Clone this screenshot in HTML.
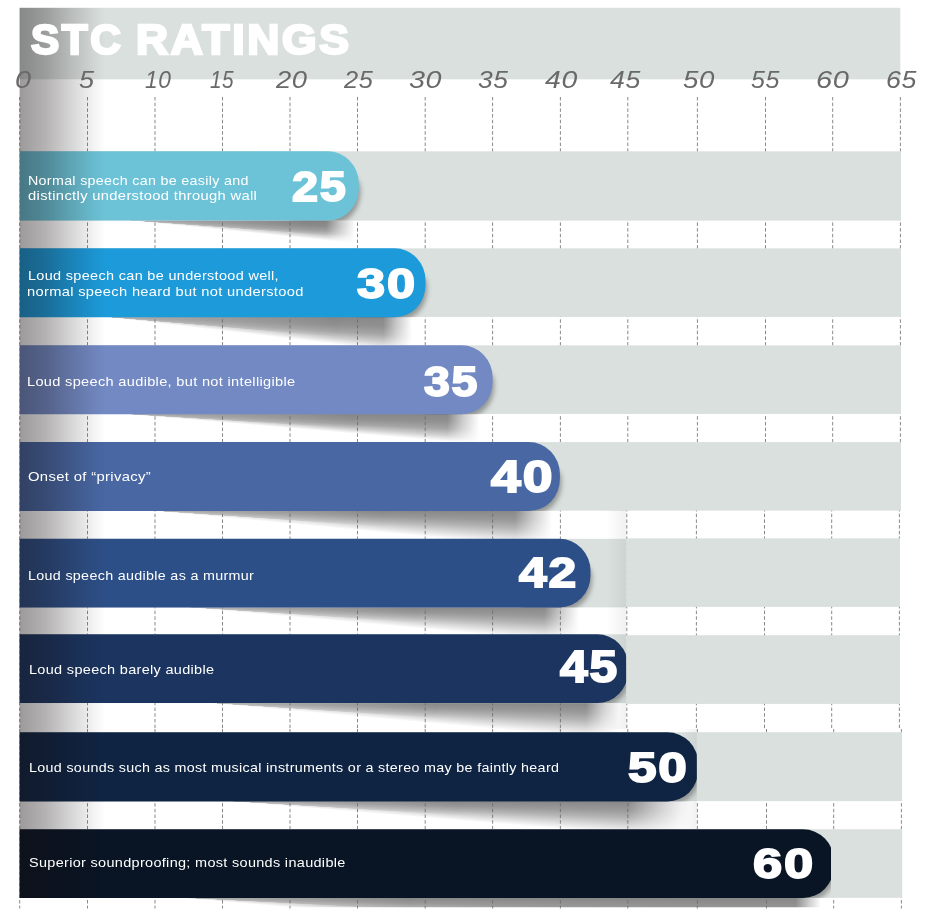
<!DOCTYPE html>
<html lang="en">
<head>
<meta charset="utf-8">
<title>STC Ratings</title>
<style>
html,body{margin:0;padding:0;background:#fff;}
body{width:933px;height:923px;position:relative;overflow:hidden;font-family:"Liberation Sans",sans-serif;}
.chart{position:absolute;left:0;top:0;width:933px;height:923px;overflow:hidden;}
.t{position:absolute;margin:0;transform-origin:0 0;color:#fff;}
.tick{color:#696969;}
.sh{position:absolute;}
svg{position:absolute;left:0;top:0;}
.title{font-size:41px;line-height:50px;font-weight:bold;white-space:nowrap;letter-spacing:2.5px;-webkit-text-stroke:2.4px #fff;}
.tick{font-size:24px;line-height:30px;font-style:italic;white-space:nowrap;letter-spacing:0.5px;}
.label{font-size:13.3px;line-height:16px;white-space:nowrap;letter-spacing:0.3px;}
.num{font-weight:bold;font-size:42px;line-height:44px;white-space:nowrap;-webkit-text-stroke:1.8px #fff;letter-spacing:1.5px;}
</style>
</head>
<body>
<div class="chart">

<div class="sh" style="left:127px;top:220px;width:228.0px;height:30px;background:conic-gradient(from 90deg at 0.00px 0.20px,rgba(0,0,0,0.47) 0.00deg,rgba(0,0,0,0.43) 1.70deg,rgba(0,0,0,0.35) 3.11deg,rgba(0,0,0,0.18) 4.52deg,rgba(0,0,0,0.05) 5.43deg,rgba(0,0,0,0) 5.82deg,rgba(0,0,0,0) 360deg);-webkit-mask-image:linear-gradient(to right,rgba(0,0,0,.35) 0%,#000 80.0%,#000 87.3%,rgba(0,0,0,.45) 93.6%,transparent 100%);mask-image:linear-gradient(to right,rgba(0,0,0,.35) 0%,#000 80.0%,#000 87.3%,rgba(0,0,0,.45) 93.6%,transparent 100%)"></div>
<div class="sh" style="left:127px;top:220px;width:228.0px;height:30px;background:conic-gradient(from 90deg at 0.00px 0.20px,rgba(0,0,0,.2) 0deg,rgba(0,0,0,.2) 4.06deg,rgba(0,0,0,0) 4.30deg,rgba(0,0,0,0) 360deg);-webkit-mask-image:linear-gradient(to right,#000 0%,rgba(0,0,0,.6) 45%,transparent 100%);mask-image:linear-gradient(to right,#000 0%,rgba(0,0,0,.6) 45%,transparent 100%)"></div>
<div class="sh" style="left:105px;top:316px;width:307.0px;height:31px;background:conic-gradient(from 90deg at 0.00px 0.90px,rgba(0,0,0,0.47) 0.00deg,rgba(0,0,0,0.43) 1.97deg,rgba(0,0,0,0.35) 3.61deg,rgba(0,0,0,0.18) 5.25deg,rgba(0,0,0,0.05) 6.30deg,rgba(0,0,0,0) 6.76deg,rgba(0,0,0,0) 360deg);-webkit-mask-image:linear-gradient(to right,rgba(0,0,0,.35) 0%,#000 74.9%,#000 90.6%,rgba(0,0,0,.45) 95.3%,transparent 100%);mask-image:linear-gradient(to right,rgba(0,0,0,.35) 0%,#000 74.9%,#000 90.6%,rgba(0,0,0,.45) 95.3%,transparent 100%)"></div>
<div class="sh" style="left:105px;top:316px;width:240.0px;height:31px;background:conic-gradient(from 90deg at 0.00px 0.90px,rgba(0,0,0,.2) 0deg,rgba(0,0,0,.2) 4.73deg,rgba(0,0,0,0) 4.97deg,rgba(0,0,0,0) 360deg);-webkit-mask-image:linear-gradient(to right,#000 0%,rgba(0,0,0,.6) 45%,transparent 100%);mask-image:linear-gradient(to right,#000 0%,rgba(0,0,0,.6) 45%,transparent 100%)"></div>
<div class="sh" style="left:121px;top:413px;width:358.0px;height:31px;background:conic-gradient(from 90deg at 0.40px 0.80px,rgba(0,0,0,0.47) 0.00deg,rgba(0,0,0,0.43) 1.42deg,rgba(0,0,0,0.35) 2.61deg,rgba(0,0,0,0.18) 3.80deg,rgba(0,0,0,0.05) 4.55deg,rgba(0,0,0,0) 4.89deg,rgba(0,0,0,0) 360deg);-webkit-mask-image:linear-gradient(to right,rgba(0,0,0,.35) 0%,#000 64.2%,#000 91.1%,rgba(0,0,0,.45) 95.5%,transparent 100%);mask-image:linear-gradient(to right,rgba(0,0,0,.35) 0%,#000 64.2%,#000 91.1%,rgba(0,0,0,.45) 95.5%,transparent 100%)"></div>
<div class="sh" style="left:121px;top:413px;width:240.0px;height:31px;background:conic-gradient(from 90deg at 0.40px 0.80px,rgba(0,0,0,.2) 0deg,rgba(0,0,0,.2) 3.39deg,rgba(0,0,0,0) 3.63deg,rgba(0,0,0,0) 360deg);-webkit-mask-image:linear-gradient(to right,#000 0%,rgba(0,0,0,.6) 45%,transparent 100%);mask-image:linear-gradient(to right,#000 0%,rgba(0,0,0,.6) 45%,transparent 100%)"></div>
<div class="sh" style="left:151px;top:510px;width:401.0px;height:30px;background:conic-gradient(from 90deg at 0.00px 0.60px,rgba(0,0,0,0.47) 0.00deg,rgba(0,0,0,0.4) 1.47deg,rgba(0,0,0,0.29) 2.73deg,rgba(0,0,0,0.15) 3.99deg,rgba(0,0,0,0.04) 5.05deg,rgba(0,0,0,0) 5.41deg,rgba(0,0,0,0) 360deg);-webkit-mask-image:linear-gradient(to right,rgba(0,0,0,.35) 0%,#000 57.4%,#000 90.8%,rgba(0,0,0,.45) 95.4%,transparent 100%);mask-image:linear-gradient(to right,rgba(0,0,0,.35) 0%,#000 57.4%,#000 90.8%,rgba(0,0,0,.45) 95.4%,transparent 100%)"></div>
<div class="sh" style="left:151px;top:510px;width:240.0px;height:30px;background:conic-gradient(from 90deg at 0.00px 0.60px,rgba(0,0,0,.2) 0deg,rgba(0,0,0,.2) 3.77deg,rgba(0,0,0,0) 4.01deg,rgba(0,0,0,0) 360deg);-webkit-mask-image:linear-gradient(to right,#000 0%,rgba(0,0,0,.6) 45%,transparent 100%);mask-image:linear-gradient(to right,#000 0%,rgba(0,0,0,.6) 45%,transparent 100%)"></div>
<div class="sh" style="left:183px;top:607px;width:396.0px;height:29px;background:conic-gradient(from 90deg at 0.00px 0.00px,rgba(0,0,0,0.47) 0.00deg,rgba(0,0,0,0.4) 1.41deg,rgba(0,0,0,0.29) 2.62deg,rgba(0,0,0,0.15) 3.82deg,rgba(0,0,0,0.04) 4.83deg,rgba(0,0,0,0) 5.18deg,rgba(0,0,0,0) 360deg);-webkit-mask-image:linear-gradient(to right,rgba(0,0,0,.35) 0%,#000 58.1%,#000 91.2%,rgba(0,0,0,.45) 95.6%,transparent 100%);mask-image:linear-gradient(to right,rgba(0,0,0,.35) 0%,#000 58.1%,#000 91.2%,rgba(0,0,0,.45) 95.6%,transparent 100%)"></div>
<div class="sh" style="left:183px;top:607px;width:240.0px;height:29px;background:conic-gradient(from 90deg at 0.00px 0.00px,rgba(0,0,0,.2) 0deg,rgba(0,0,0,.2) 3.60deg,rgba(0,0,0,0) 3.84deg,rgba(0,0,0,0) 360deg);-webkit-mask-image:linear-gradient(to right,#000 0%,rgba(0,0,0,.6) 45%,transparent 100%);mask-image:linear-gradient(to right,#000 0%,rgba(0,0,0,.6) 45%,transparent 100%)"></div>
<div class="sh" style="left:205px;top:702px;width:414.0px;height:32px;background:conic-gradient(from 90deg at 0.00px 0.70px,rgba(0,0,0,0.47) 0.00deg,rgba(0,0,0,0.4) 1.41deg,rgba(0,0,0,0.29) 2.62deg,rgba(0,0,0,0.15) 3.82deg,rgba(0,0,0,0.04) 4.83deg,rgba(0,0,0,0) 5.18deg,rgba(0,0,0,0) 360deg);-webkit-mask-image:linear-gradient(to right,rgba(0,0,0,.35) 0%,#000 55.6%,#000 92.0%,rgba(0,0,0,.45) 96.0%,transparent 100%);mask-image:linear-gradient(to right,rgba(0,0,0,.35) 0%,#000 55.6%,#000 92.0%,rgba(0,0,0,.45) 96.0%,transparent 100%)"></div>
<div class="sh" style="left:205px;top:702px;width:240.0px;height:32px;background:conic-gradient(from 90deg at 0.00px 0.70px,rgba(0,0,0,.2) 0deg,rgba(0,0,0,.2) 3.60deg,rgba(0,0,0,0) 3.84deg,rgba(0,0,0,0) 360deg);-webkit-mask-image:linear-gradient(to right,#000 0%,rgba(0,0,0,.6) 45%,transparent 100%);mask-image:linear-gradient(to right,#000 0%,rgba(0,0,0,.6) 45%,transparent 100%)"></div>
<div class="sh" style="left:227px;top:801px;width:463.0px;height:30px;background:conic-gradient(from 90deg at 0.00px 0.10px,rgba(0,0,0,0.47) 0.00deg,rgba(0,0,0,0.4) 1.30deg,rgba(0,0,0,0.29) 2.41deg,rgba(0,0,0,0.15) 3.52deg,rgba(0,0,0,0.04) 4.45deg,rgba(0,0,0,0) 4.77deg,rgba(0,0,0,0) 360deg);-webkit-mask-image:linear-gradient(to right,rgba(0,0,0,.35) 0%,#000 49.7%,#000 86.6%,rgba(0,0,0,.45) 93.3%,transparent 100%);mask-image:linear-gradient(to right,rgba(0,0,0,.35) 0%,#000 49.7%,#000 86.6%,rgba(0,0,0,.45) 93.3%,transparent 100%)"></div>
<div class="sh" style="left:227px;top:801px;width:240.0px;height:30px;background:conic-gradient(from 90deg at 0.00px 0.10px,rgba(0,0,0,.2) 0deg,rgba(0,0,0,.2) 3.31deg,rgba(0,0,0,0) 3.55deg,rgba(0,0,0,0) 360deg);-webkit-mask-image:linear-gradient(to right,#000 0%,rgba(0,0,0,.6) 45%,transparent 100%);mask-image:linear-gradient(to right,#000 0%,rgba(0,0,0,.6) 45%,transparent 100%)"></div>
<div class="sh" style="left:178px;top:897px;width:643.0px;height:11px;background:conic-gradient(from 90deg at 0.00px 0.60px,rgba(0,0,0,0.47) 0.00deg,rgba(0,0,0,0.4) 1.36deg,rgba(0,0,0,0.29) 2.53deg,rgba(0,0,0,0.15) 3.69deg,rgba(0,0,0,0.04) 4.66deg,rgba(0,0,0,0) 5.00deg,rgba(0,0,0,0) 360deg);-webkit-mask-image:linear-gradient(to right,rgba(0,0,0,.35) 0%,#000 35.8%,#000 96.1%,rgba(0,0,0,.45) 98.1%,transparent 100%);mask-image:linear-gradient(to right,rgba(0,0,0,.35) 0%,#000 35.8%,#000 96.1%,rgba(0,0,0,.45) 98.1%,transparent 100%);clip-path:inset(0 0 0.7px 0)"></div>
<div class="sh" style="left:178px;top:897px;width:240.0px;height:11px;background:conic-gradient(from 90deg at 0.00px 0.60px,rgba(0,0,0,.2) 0deg,rgba(0,0,0,.2) 2.74deg,rgba(0,0,0,0) 2.98deg,rgba(0,0,0,0) 360deg);-webkit-mask-image:linear-gradient(to right,#000 0%,rgba(0,0,0,.6) 45%,transparent 100%);mask-image:linear-gradient(to right,#000 0%,rgba(0,0,0,.6) 45%,transparent 100%);clip-path:inset(0 0 0.7px 0)"></div>
<svg width="933" height="923" viewBox="0 0 933 923">
<defs>
<linearGradient id="fade" x1="0" y1="0" x2="1" y2="0"><stop offset="0" stop-color="#140e10" stop-opacity=".42"/><stop offset=".3" stop-color="#140e10" stop-opacity=".32"/><stop offset=".6" stop-color="#140e10" stop-opacity=".17"/><stop offset=".86" stop-color="#140e10" stop-opacity=".05"/><stop offset="1" stop-color="#140e10" stop-opacity="0"/></linearGradient>
<linearGradient id="seam" x1="0" y1="0" x2="1" y2="0"><stop offset="0" stop-color="#1e2824" stop-opacity="0"/><stop offset="1" stop-color="#1e2824" stop-opacity=".065"/></linearGradient>
<clipPath id="c5"><rect x="0" y="632.3" width="626.1" height="72.8"/></clipPath>
<clipPath id="c6"><rect x="0" y="730.2" width="696.8" height="73.3"/></clipPath>
<clipPath id="c7"><rect x="0" y="827.2" width="831.0" height="72.8"/></clipPath>
<filter id="eb" x="-20%" y="-20%" width="140%" height="140%"><feGaussianBlur stdDeviation="2.6"/></filter>
<clipPath id="bc0"><rect x="19.6" y="151.30" width="881.4" height="69.30"/></clipPath>
<clipPath id="bc1"><rect x="19.6" y="248.35" width="881.4" height="68.95"/></clipPath>
<clipPath id="bc2"><rect x="19.6" y="345.30" width="881.4" height="68.90"/></clipPath>
<clipPath id="bc3"><rect x="19.6" y="442.10" width="881.4" height="68.90"/></clipPath>
<clipPath id="bc4"><rect x="19.6" y="538.80" width="606.5" height="68.60"/></clipPath>
<clipPath id="bc5"><rect x="19.6" y="634.30" width="606.5" height="68.80"/></clipPath>
<clipPath id="bc6"><rect x="19.6" y="732.20" width="677.2" height="69.30"/></clipPath>
<clipPath id="bc7"><rect x="19.6" y="829.20" width="811.4" height="68.80"/></clipPath>
</defs>
<g id="grid" stroke="#6a6a6a" stroke-width="0.8" stroke-dasharray="3.5 2.2">
<line x1="19.7" y1="97" x2="19.7" y2="508"/>
<line x1="19.7" y1="508" x2="19.7" y2="729"/>
<line x1="19.7" y1="729" x2="19.7" y2="908.5"/>
<line x1="87.5" y1="97" x2="87.5" y2="508"/>
<line x1="87.5" y1="508" x2="87.5" y2="729"/>
<line x1="87.5" y1="729" x2="87.5" y2="908.5"/>
<line x1="155.0" y1="97" x2="155.0" y2="508"/>
<line x1="155.0" y1="508" x2="155.0" y2="729"/>
<line x1="155.0" y1="729" x2="155.0" y2="908.5"/>
<line x1="222.5" y1="97" x2="222.5" y2="508"/>
<line x1="222.5" y1="508" x2="222.5" y2="729"/>
<line x1="222.5" y1="729" x2="222.5" y2="908.5"/>
<line x1="290.0" y1="97" x2="290.0" y2="508"/>
<line x1="290.0" y1="508" x2="290.0" y2="729"/>
<line x1="290.0" y1="729" x2="290.0" y2="908.5"/>
<line x1="357.5" y1="97" x2="357.5" y2="508"/>
<line x1="357.5" y1="508" x2="357.5" y2="729"/>
<line x1="357.5" y1="729" x2="357.5" y2="908.5"/>
<line x1="425.2" y1="97" x2="425.2" y2="508"/>
<line x1="425.2" y1="508" x2="425.2" y2="729"/>
<line x1="425.2" y1="729" x2="425.2" y2="908.5"/>
<line x1="492.6" y1="97" x2="492.6" y2="508"/>
<line x1="492.6" y1="508" x2="492.6" y2="729"/>
<line x1="492.6" y1="729" x2="492.6" y2="908.5"/>
<line x1="560.4" y1="97" x2="560.4" y2="508"/>
<line x1="560.4" y1="508" x2="560.4" y2="729"/>
<line x1="560.4" y1="729" x2="560.4" y2="908.5"/>
<line x1="627.8" y1="97" x2="627.8" y2="508"/>
<line x1="626.8" y1="508" x2="626.8" y2="729"/>
<line x1="627.8" y1="729" x2="627.8" y2="908.5"/>
<line x1="697.4" y1="97" x2="697.4" y2="508"/>
<line x1="696.4" y1="508" x2="696.4" y2="729"/>
<line x1="697.4" y1="729" x2="697.4" y2="908.5"/>
<line x1="765.5" y1="97" x2="765.5" y2="508"/>
<line x1="764.5" y1="508" x2="764.5" y2="729"/>
<line x1="766.5" y1="729" x2="766.5" y2="908.5"/>
<line x1="832.7" y1="97" x2="832.7" y2="508"/>
<line x1="831.7" y1="508" x2="831.7" y2="729"/>
<line x1="833.7" y1="729" x2="833.7" y2="908.5"/>
<line x1="900.4" y1="97" x2="900.4" y2="508"/>
<line x1="899.4" y1="508" x2="899.4" y2="729"/>
<line x1="901.4" y1="729" x2="901.4" y2="908.5"/>
</g>
<rect id="header" x="19.6" y="7.8" width="880.7" height="71.5" fill="#dae0de"/>
<g id="bands" fill="#dae0de">
<rect x="19.6" y="151.3" width="881.4" height="69.30"/>
<rect x="19.6" y="248.35" width="881.4" height="68.55"/>
<rect x="19.6" y="345.3" width="881.4" height="68.60"/>
<rect x="19.6" y="442.1" width="881.4" height="68.60"/>
<rect x="19.6" y="538.8" width="606.5" height="68.60"/>
<rect x="626.1" y="538.35" width="273.9" height="68.55"/>
<rect x="19.6" y="634.3" width="606.5" height="68.80"/>
<rect x="626.1" y="635.2" width="273.9" height="68.70"/>
<rect x="19.6" y="732.2" width="882.4" height="68.90"/>
<rect x="19.6" y="829.25" width="882.6" height="68.55"/>
</g>
<g id="endshadows" fill="#000" fill-opacity=".33">
<g clip-path="url(#bc0)"><path d="M290.3,169.8 H329.3 A31,18 0 0 1 360.3,187.80 V193.10 A31,32 0 0 1 329.3,225.10 H290.3 Z" filter="url(#eb)"/></g>
<g clip-path="url(#bc1)"><path d="M357.0,266.9 H396.0 A31,18 0 0 1 427.0,284.85 V289.80 A31,32 0 0 1 396.0,321.80 H357.0 Z" filter="url(#eb)"/></g>
<g clip-path="url(#bc2)"><path d="M424.1,363.8 H463.1 A31,18 0 0 1 494.1,381.80 V386.70 A31,32 0 0 1 463.1,418.70 H424.1 Z" filter="url(#eb)"/></g>
<g clip-path="url(#bc3)"><path d="M491.4,460.6 H530.4 A31,18 0 0 1 561.4,478.60 V483.50 A31,32 0 0 1 530.4,515.50 H491.4 Z" filter="url(#eb)"/></g>
<g clip-path="url(#bc4)"><path d="M522.0,557.3 H561.0 A31,18 0 0 1 592.0,575.30 V579.90 A31,32 0 0 1 561.0,611.90 H522.0 Z" filter="url(#eb)"/></g>
<g clip-path="url(#bc5)"><path d="M559.7,652.8 H598.7 A31,18 0 0 1 629.7,670.80 V675.60 A31,32 0 0 1 598.7,707.60 H559.7 Z" filter="url(#eb)"/></g>
<g clip-path="url(#bc6)"><path d="M629.9,750.7 H668.9 A31,18 0 0 1 699.9,768.70 V774.00 A31,32 0 0 1 668.9,806.00 H629.9 Z" filter="url(#eb)"/></g>
<g clip-path="url(#bc7)"><path d="M765.5,847.7 H804.5 A31,18 0 0 1 835.5,865.70 V870.50 A31,32 0 0 1 804.5,902.50 H765.5 Z" filter="url(#eb)"/></g>
</g>
<g id="bars">
<path d="M19.6,151.3 H327.8 A31,32 0 0 1 358.8,183.30 V188.60 A31,32 0 0 1 327.8,220.6 H19.6 Z" fill="#6cc3d7"/>
<path d="M19.6,248.35 H394.5 A31,32 0 0 1 425.5,280.35 V285.30 A31,32 0 0 1 394.5,317.3 H19.6 Z" fill="#1c9ad9"/>
<path d="M19.6,345.3 H461.6 A31,32 0 0 1 492.6,377.30 V382.20 A31,32 0 0 1 461.6,414.2 H19.6 Z" fill="#7289c3"/>
<path d="M19.6,442.1 H528.9 A31,32 0 0 1 559.9,474.10 V479.00 A31,32 0 0 1 528.9,511.0 H19.6 Z" fill="#4867a3"/>
<path d="M19.6,538.8 H559.5 A31,32 0 0 1 590.5,570.80 V575.40 A31,32 0 0 1 559.5,607.4 H19.6 Z" fill="#2d4f87"/>
<path d="M19.6,634.3 H597.2 A31,32 0 0 1 628.2,666.30 V671.10 A31,32 0 0 1 597.2,703.1 H19.6 Z" fill="#1b3560" clip-path="url(#c5)"/>
<path d="M19.6,732.2 H667.4 A31,32 0 0 1 698.4,764.20 V769.50 A31,32 0 0 1 667.4,801.5 H19.6 Z" fill="#0f2443" clip-path="url(#c6)"/>
<path d="M19.6,829.2 H803.0 A31,32 0 0 1 834.0,861.20 V866.00 A31,32 0 0 1 803.0,898.0 H19.6 Z" fill="#091424" clip-path="url(#c7)"/>
</g>
<rect x="606" y="510" width="20.1" height="219" fill="url(#seam)"/>
<rect x="681" y="729" width="15.8" height="100" fill="url(#seam)"/>
<rect x="19.6" y="7.8" width="86" height="890.1" fill="url(#fade)"/>
</svg>
<h1 class="t" style="left:0;top:0;font:inherit"><span class="t title" style="left:30.76px;top:13.66px;transform:scale(1.0314,1.0317)">STC</span> <span class="t title" style="left:135.87px;top:13.66px;transform:scale(1.0843,1.0317)">RATINGS</span></h1>
<div class="axis">
<div class="t tick" style="left:15.00px;top:65.36px;transform:scale(1.2000,1.0176)">0</div>
<div class="t tick" style="left:79.03px;top:65.36px;transform:scale(1.1308,1.0176)">5</div>
<div class="t tick" style="left:144.69px;top:65.36px;transform:scale(0.9486,1.0176)">10</div>
<div class="t tick" style="left:210.35px;top:65.36px;transform:scale(0.8679,1.0176)">15</div>
<div class="t tick" style="left:276.09px;top:65.36px;transform:scale(1.1413,1.0176)">20</div>
<div class="t tick" style="left:343.56px;top:65.36px;transform:scale(1.0582,1.0176)">25</div>
<div class="t tick" style="left:408.70px;top:65.36px;transform:scale(1.1962,1.0176)">30</div>
<div class="t tick" style="left:478.45px;top:65.36px;transform:scale(1.0991,1.0176)">35</div>
<div class="t tick" style="left:544.70px;top:65.36px;transform:scale(1.1850,1.0176)">40</div>
<div class="t tick" style="left:610.12px;top:65.36px;transform:scale(1.1111,1.0176)">45</div>
<div class="t tick" style="left:682.72px;top:65.36px;transform:scale(1.1547,1.0176)">50</div>
<div class="t tick" style="left:750.68px;top:65.36px;transform:scale(1.0430,1.0176)">55</div>
<div class="t tick" style="left:816.19px;top:65.36px;transform:scale(1.2078,1.0176)">60</div>
<div class="t tick" style="left:885.91px;top:65.36px;transform:scale(1.1154,1.0176)">65</div>
</div>
<section class="row">
<div class="t label" style="left:27.73px;top:173.10px;transform:scale(1.0719,1.0000)">Normal speech can be easily and</div>
<div class="t label" style="left:28.25px;top:187.90px;transform:scale(1.1084,1.0000)">distinctly understood through wall</div>
<div class="t num" style="left:292.34px;top:165.18px;transform:scale(1.1158,1.0127)">25</div>
</section>
<section class="row">
<div class="t label" style="left:27.91px;top:267.50px;transform:scale(1.0874,1.0000)">Loud speech can be understood well,</div>
<div class="t label" style="left:26.90px;top:283.50px;transform:scale(1.1027,1.0000)">normal speech heard but not understood</div>
<div class="t num" style="left:357.10px;top:260.57px;transform:scale(1.2021,1.0142)">30</div>
</section>
<section class="row">
<div class="t label" style="left:26.61px;top:373.60px;transform:scale(1.0948,1.0000)">Loud speech audible, but not intelligible</div>
<div class="t num" style="left:424.00px;top:358.65px;transform:scale(1.1083,1.0173)">35</div>
</section>
<section class="row">
<div class="t label" style="left:28.14px;top:468.90px;transform:scale(1.1147,1.0000)">Onset of “privacy”</div>
<div class="t num" style="left:491.12px;top:454.81px;transform:scale(1.2733,1.0413)">40</div>
</section>
<section class="row">
<div class="t label" style="left:27.63px;top:568.30px;transform:scale(1.0750,1.0000)">Loud speech audible as a murmur</div>
<div class="t num" style="left:519.20px;top:550.79px;transform:scale(1.1874,1.0112)">42</div>
</section>
<section class="row">
<div class="t label" style="left:28.51px;top:662.30px;transform:scale(1.0878,1.0000)">Loud speech barely audible</div>
<div class="t num" style="left:559.60px;top:645.33px;transform:scale(1.1834,1.0355)">45</div>
</section>
<section class="row">
<div class="t label" style="left:28.52px;top:760.40px;transform:scale(1.0752,1.0000)">Loud sounds such as most musical instruments or a stereo may be faintly heard</div>
<div class="t num" style="left:628.19px;top:745.37px;transform:scale(1.2212,1.0317)">50</div>
</section>
<section class="row">
<div class="t label" style="left:28.79px;top:854.60px;transform:scale(1.0865,1.0000)">Superior soundproofing; most sounds inaudible</div>
<div class="t num" style="left:752.96px;top:840.67px;transform:scale(1.2492,1.0317)">60</div>
</section>
</div>
</body>
</html>
